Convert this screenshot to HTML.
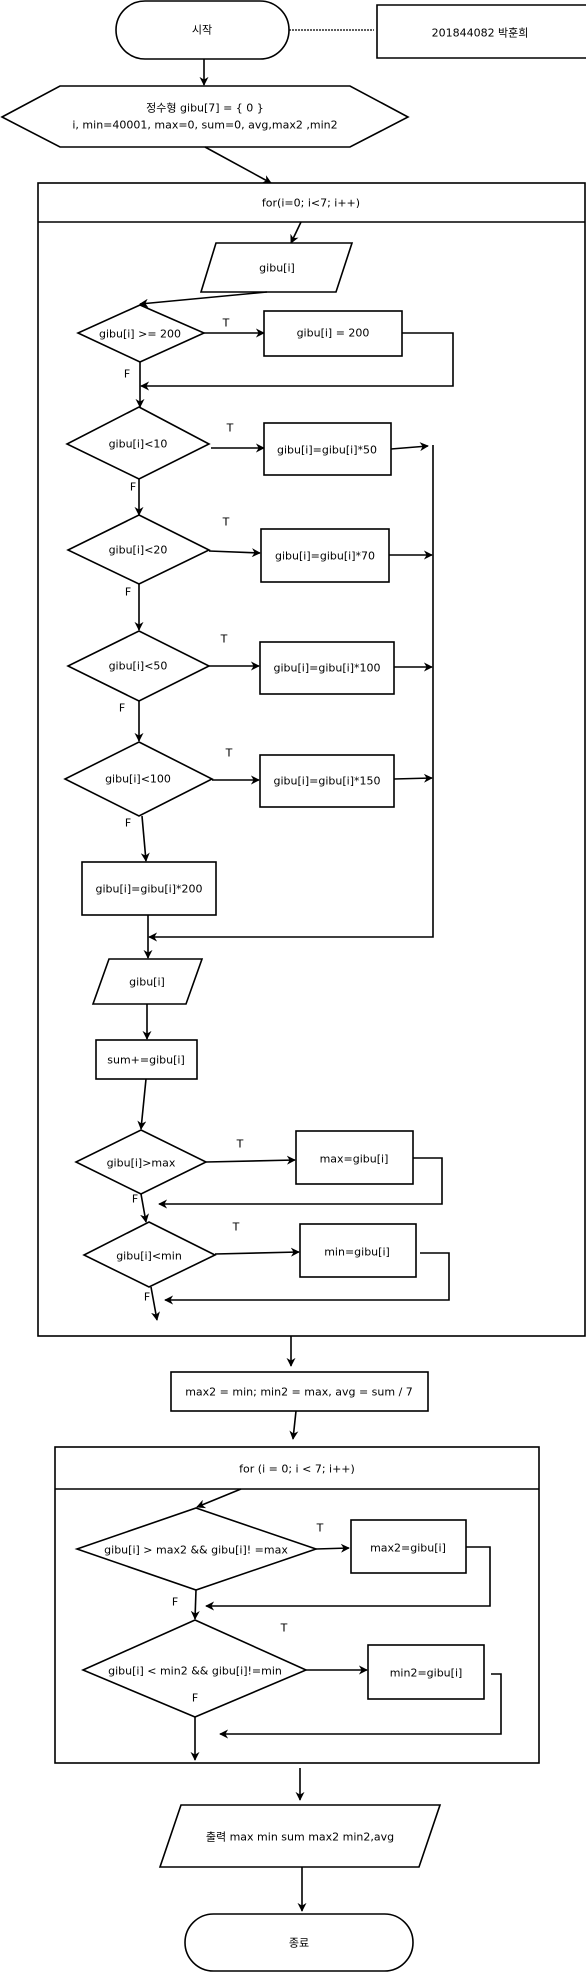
<!DOCTYPE html>
<html><head><meta charset="utf-8"><style>
html,body{margin:0;padding:0;background:#fff;}
svg{display:block;}
text{font-family:"DejaVu Sans","Liberation Sans","Noto Sans CJK KR",sans-serif;font-size:11px;fill:#000;}
.s{fill:#fff;stroke:#000;stroke-width:1.6;}
.l{fill:none;stroke:#000;stroke-width:1.6;}
</style></head><body>
<svg width="586" height="1973" viewBox="0 0 586 1973" xmlns="http://www.w3.org/2000/svg">
<defs>
<marker id="a" viewBox="0 0 10 10" refX="9" refY="5" markerWidth="9" markerHeight="9" markerUnits="userSpaceOnUse" orient="auto">
<path d="M0,0 L10,5 L0,10 L3,5 z" fill="#000"/>
</marker>
</defs>
<g text-anchor="middle" dominant-baseline="central">
<!-- start -->
<rect class="s" x="116" y="1" width="173" height="58" rx="29"/>
<text x="202" y="30" font-size="12">시작</text>
<line x1="289" y1="30" x2="374" y2="30" stroke="#000" stroke-width="1.2" stroke-dasharray="2,1"/>
<path class="l" d="M586,5 H377 V58 H586"/>
<text x="480" y="33">201844082 박훈희</text>
<line class="l" x1="204" y1="59" x2="204" y2="85" marker-end="url(#a)"/>
<!-- hexagon -->
<polygon class="s" points="2,117 60,86 350,86 408,117 350,147 60,147"/>
<text x="205" y="108">정수형 gibu[7] = { 0 }</text>
<text x="205" y="125">i, min=40001, max=0, sum=0, avg,max2 ,min2</text>
<line class="l" x1="205" y1="147" x2="271" y2="183" marker-end="url(#a)"/>
<!-- loop1 -->
<rect class="s" x="38" y="183" width="547" height="1153"/>
<line class="l" x1="38" y1="222" x2="585" y2="222"/>
<text x="311" y="203">for(i=0; i&lt;7; i++)</text>
<line class="l" x1="301" y1="222" x2="291" y2="243" marker-end="url(#a)"/>
<polygon class="s" points="216,243 352,243 336,292 201,292"/>
<text x="277" y="268">gibu[i]</text>
<line class="l" x1="267" y1="292" x2="140" y2="304" marker-end="url(#a)"/>
<!-- d1 -->
<polygon class="s" points="140,305 204,333 140,362 78,333"/>
<text x="140" y="334">gibu[i] &gt;= 200</text>
<text x="226" y="323">T</text>
<line class="l" x1="204" y1="333" x2="264" y2="333" marker-end="url(#a)"/>
<rect class="s" x="264" y="311" width="138" height="45"/>
<text x="333" y="333">gibu[i] = 200</text>
<path class="l" d="M402,333 H453 V386 H141" marker-end="url(#a)"/>
<text x="127" y="374">F</text>
<line class="l" x1="140" y1="362" x2="140" y2="407" marker-end="url(#a)"/>
<!-- d2 -->
<polygon class="s" points="139,407 209,444 139,479 67,444"/>
<text x="138" y="444">gibu[i]&lt;10</text>
<text x="230" y="428">T</text>
<line class="l" x1="211" y1="448" x2="264" y2="448" marker-end="url(#a)"/>
<rect class="s" x="264" y="423" width="127" height="52"/>
<text x="327" y="450">gibu[i]=gibu[i]*50</text>
<line class="l" x1="391" y1="449" x2="428" y2="446" marker-end="url(#a)"/>
<path class="l" d="M433,445 V937 H149" marker-end="url(#a)"/>
<text x="133" y="487">F</text>
<line class="l" x1="139" y1="479" x2="139" y2="515" marker-end="url(#a)"/>
<!-- d3 -->
<polygon class="s" points="139,515 209,550 139,584 68,550"/>
<text x="138" y="550">gibu[i]&lt;20</text>
<text x="226" y="522">T</text>
<line class="l" x1="209" y1="551" x2="260" y2="553" marker-end="url(#a)"/>
<rect class="s" x="261" y="529" width="128" height="53"/>
<text x="325" y="556">gibu[i]=gibu[i]*70</text>
<line class="l" x1="389" y1="555" x2="432" y2="555" marker-end="url(#a)"/>
<text x="128" y="592">F</text>
<line class="l" x1="139" y1="584" x2="139" y2="630" marker-end="url(#a)"/>
<!-- d4 -->
<polygon class="s" points="139,631 209,666 139,701 68,666"/>
<text x="138" y="666">gibu[i]&lt;50</text>
<text x="224" y="639">T</text>
<line class="l" x1="209" y1="666" x2="259" y2="666" marker-end="url(#a)"/>
<rect class="s" x="260" y="642" width="134" height="52"/>
<text x="327" y="668">gibu[i]=gibu[i]*100</text>
<line class="l" x1="394" y1="667" x2="432" y2="667" marker-end="url(#a)"/>
<text x="122" y="708">F</text>
<line class="l" x1="139" y1="701" x2="139" y2="741" marker-end="url(#a)"/>
<!-- d5 -->
<polygon class="s" points="139,742 212,779 139,816 65,779"/>
<text x="138" y="779">gibu[i]&lt;100</text>
<text x="229" y="753">T</text>
<line class="l" x1="212" y1="780" x2="259" y2="780" marker-end="url(#a)"/>
<rect class="s" x="260" y="755" width="134" height="52"/>
<text x="327" y="781">gibu[i]=gibu[i]*150</text>
<line class="l" x1="394" y1="779" x2="432" y2="778" marker-end="url(#a)"/>
<text x="128" y="823">F</text>
<line class="l" x1="142" y1="816" x2="146" y2="861" marker-end="url(#a)"/>
<rect class="s" x="82" y="862" width="134" height="53"/>
<text x="149" y="889">gibu[i]=gibu[i]*200</text>
<line class="l" x1="148" y1="915" x2="148" y2="958" marker-end="url(#a)"/>
<polygon class="s" points="109,959 202,959 186,1004 93,1004"/>
<text x="147" y="982">gibu[i]</text>
<line class="l" x1="147" y1="1004" x2="147" y2="1039" marker-end="url(#a)"/>
<rect class="s" x="96" y="1040" width="101" height="39"/>
<text x="146" y="1060">sum+=gibu[i]</text>
<line class="l" x1="146" y1="1079" x2="141" y2="1129" marker-end="url(#a)"/>
<!-- max -->
<polygon class="s" points="141,1130 206,1162 141,1194 76,1162"/>
<text x="141" y="1163">gibu[i]&gt;max</text>
<text x="240" y="1144">T</text>
<line class="l" x1="206" y1="1162" x2="295" y2="1160" marker-end="url(#a)"/>
<rect class="s" x="296" y="1131" width="117" height="53"/>
<text x="354" y="1159">max=gibu[i]</text>
<path class="l" d="M413,1158 H442 V1204 H159" marker-end="url(#a)"/>
<text x="135" y="1199">F</text>
<line class="l" x1="141" y1="1194" x2="146" y2="1222" marker-end="url(#a)"/>
<!-- min -->
<polygon class="s" points="149,1222 215,1255 149,1287 84,1255"/>
<text x="149" y="1256">gibu[i]&lt;min</text>
<text x="236" y="1227">T</text>
<line class="l" x1="215" y1="1254" x2="299" y2="1252" marker-end="url(#a)"/>
<rect class="s" x="300" y="1224" width="116" height="53"/>
<text x="357" y="1252">min=gibu[i]</text>
<path class="l" d="M420,1253 H449 V1300 H165" marker-end="url(#a)"/>
<text x="147" y="1297">F</text>
<line class="l" x1="151" y1="1287" x2="157" y2="1320" marker-end="url(#a)"/>
<line class="l" x1="291" y1="1336" x2="291" y2="1366" marker-end="url(#a)"/>
<rect class="s" x="171" y="1372" width="257" height="39"/>
<text x="299" y="1392">max2 = min; min2 = max, avg = sum / 7</text>
<line class="l" x1="296" y1="1411" x2="293" y2="1439" marker-end="url(#a)"/>
<!-- loop2 -->
<rect class="s" x="55" y="1447" width="484" height="316"/>
<line class="l" x1="55" y1="1489" x2="539" y2="1489"/>
<text x="297" y="1469">for (i = 0; i &lt; 7; i++)</text>
<line class="l" x1="241" y1="1489" x2="197" y2="1507" marker-end="url(#a)"/>
<polygon class="s" points="196,1508 316,1549 196,1590 77,1549"/>
<text x="196" y="1550" font-size="10.5">gibu[i] &gt; max2 &amp;&amp; gibu[i]! =max</text>
<text x="320" y="1528">T</text>
<line class="l" x1="316" y1="1549" x2="349" y2="1548" marker-end="url(#a)"/>
<rect class="s" x="351" y="1520" width="115" height="53"/>
<text x="408" y="1548">max2=gibu[i]</text>
<path class="l" d="M466,1547 H490 V1606 H206" marker-end="url(#a)"/>
<text x="175" y="1602">F</text>
<line class="l" x1="196" y1="1590" x2="195" y2="1619" marker-end="url(#a)"/>
<polygon class="s" points="195,1620 306,1670 195,1717 83,1670"/>
<text x="195" y="1671" font-size="10.5">gibu[i] &lt; min2 &amp;&amp; gibu[i]!=min</text>
<text x="284" y="1628">T</text>
<text x="195" y="1698">F</text>
<line class="l" x1="306" y1="1670" x2="367" y2="1670" marker-end="url(#a)"/>
<rect class="s" x="368" y="1645" width="116" height="54"/>
<text x="426" y="1673">min2=gibu[i]</text>
<path class="l" d="M491,1674 H501 V1734 H220" marker-end="url(#a)"/>
<line class="l" x1="195" y1="1717" x2="195" y2="1760" marker-end="url(#a)"/>
<line class="l" x1="300" y1="1768" x2="300" y2="1800" marker-end="url(#a)"/>
<polygon class="s" points="181,1805 440,1805 419,1867 160,1867"/>
<text x="300" y="1837">출력 max min sum max2 min2,avg</text>
<line class="l" x1="302" y1="1867" x2="302" y2="1911" marker-end="url(#a)"/>
<rect class="s" x="185" y="1914" width="228" height="57" rx="28.5"/>
<text x="299" y="1943" font-size="12">종료</text>
</g>
</svg>
</body></html>
